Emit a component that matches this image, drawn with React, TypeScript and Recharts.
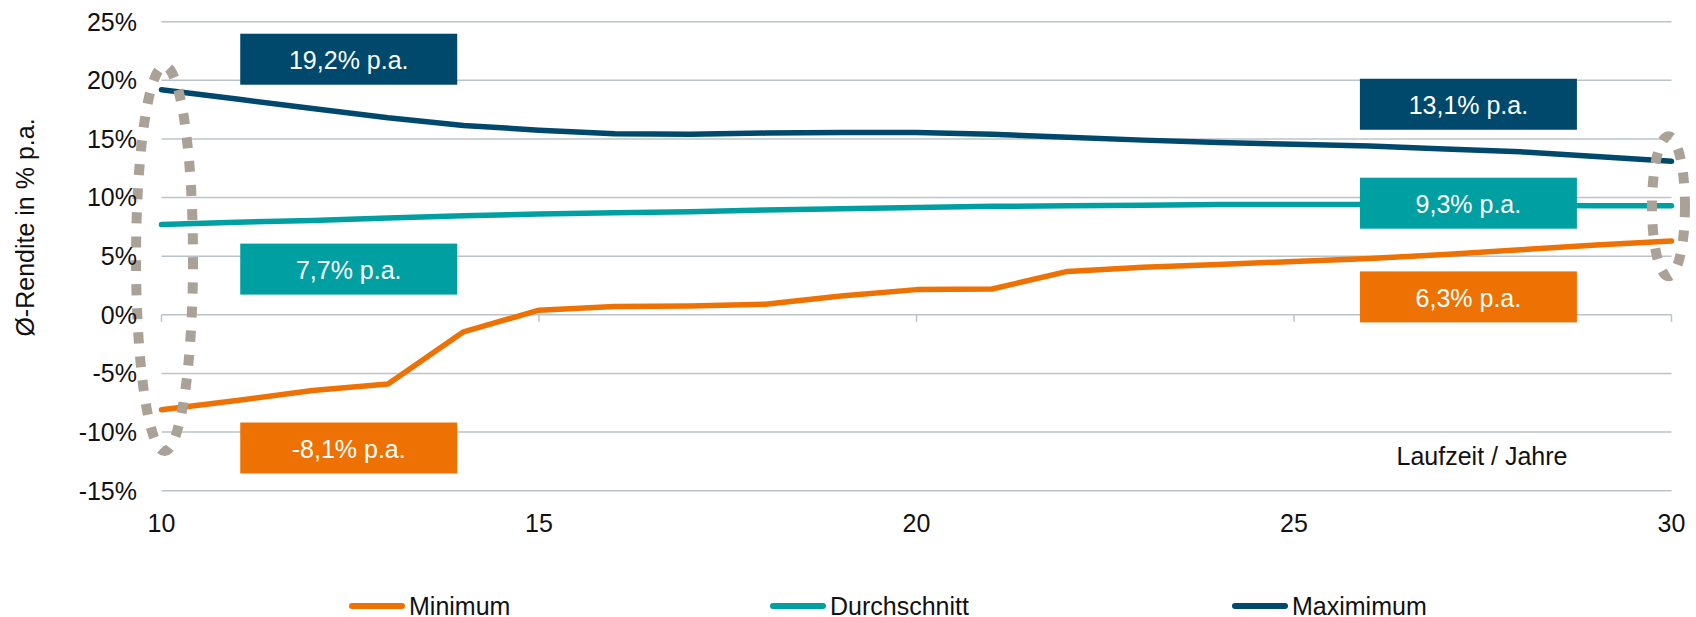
import {
  LineChart,
  Line,
  XAxis,
  YAxis,
  CartesianGrid,
  ReferenceLine,
  ReferenceDot,
} from "recharts";

// Laufzeit in Jahren
const years = [10, 11, 12, 13, 14, 15, 16, 17, 18, 19, 20, 21, 22, 23, 24, 25, 26, 27, 28, 29, 30];

// Ø-Rendite in % p.a.
const minimum = [-8.1, -7.3, -6.45, -5.9, -1.45, 0.4, 0.7, 0.75, 0.9, 1.6, 2.15, 2.2, 3.7, 4.05, 4.3, 4.55, 4.8, 5.15, 5.55, 5.95, 6.3];
const durchschnitt = [7.7, 7.9, 8.05, 8.25, 8.45, 8.6, 8.7, 8.8, 8.95, 9.05, 9.15, 9.25, 9.3, 9.35, 9.4, 9.4, 9.4, 9.4, 9.35, 9.3, 9.3];
const maximum = [19.2, 18.4, 17.6, 16.8, 16.15, 15.75, 15.45, 15.4, 15.5, 15.55, 15.55, 15.4, 15.15, 14.9, 14.7, 14.55, 14.4, 14.15, 13.9, 13.5, 13.1];

const xTicks = [10, 15, 20, 25, 30];
const yTicks = [-15, -10, -5, 0, 5, 10, 15, 20, 25];

const FONT = "'Liberation Sans', Arial, sans-serif";
const GRID = "#BAC4C8";
const DOTS = "#ABA297";

const series = [
  { key: "minimum", name: "Minimum", color: "#EE7203", values: minimum },
  { key: "durchschnitt", name: "Durchschnitt", color: "#009FA2", values: durchschnitt },
  { key: "maximum", name: "Maximimum", color: "#00496C", values: maximum },
];

const data = years.map((t, i) => ({
  t,
  minimum: minimum[i],
  durchschnitt: durchschnitt[i],
  maximum: maximum[i],
}));

const fmt = (v: number) => `${v.toFixed(1).replace(".", ",")}% p.a.`;

// where the value boxes sit (data coords of the box centre)
const boxSpots: Record<string, { left: number; right: number }> = {
  maximum: { left: 21.8, right: 17.96 },
  durchschnitt: { left: 3.9, right: 9.52 },
  minimum: { left: -11.36, right: 1.53 },
};

function ValueBox({ cx, cy, color, text }: any) {
  return (
    <g>
      <rect x={cx - 108.5} y={cy - 25.5} width={217} height={51} fill={color} />
      <text
        x={cx}
        y={cy + 1}
        textAnchor="middle"
        dominantBaseline="central"
        fill="#fff"
        fontSize={25}
        fontFamily={FONT}
      >
        {text}
      </text>
    </g>
  );
}

function DottedEllipse({ cx, cy, rx, ry }: any) {
  return (
    <ellipse
      cx={cx}
      cy={cy}
      rx={rx}
      ry={ry}
      fill="none"
      stroke={DOTS}
      strokeWidth={10}
      strokeDasharray="11 13"
    />
  );
}

function Legend() {
  const lefts = [349, 770, 1232];
  return (
    <>
      {series.map((s, i) => (
        <div
          key={s.key}
          style={{
            position: "absolute",
            left: lefts[i],
            top: 591,
            height: 30,
            display: "flex",
            alignItems: "center",
            fontFamily: FONT,
            fontSize: 25,
            color: "#111",
            whiteSpace: "nowrap",
          }}
        >
          <span
            style={{
              display: "inline-block",
              width: 56,
              height: 6,
              borderRadius: 3,
              background: s.color,
              marginRight: 4,
            }}
          />
          {s.name}
        </div>
      ))}
    </>
  );
}

export default function App() {
  return (
    <div style={{ position: "relative", width: 1696, height: 617, background: "#fff" }}>
      <style>{"body{margin:0}"}</style>
      <LineChart
        width={1696}
        height={617}
        data={data}
        margin={{ top: 21.7, right: 24.5, left: 21.5, bottom: 76.3 }}
      >
        <CartesianGrid vertical={false} stroke={GRID} strokeWidth={1.5} />
        <XAxis
          dataKey="t"
          type="number"
          domain={[10, 30]}
          ticks={xTicks}
          interval={0}
          height={50}
          axisLine={false}
          tickLine={false}
          tickMargin={17.3}
          tick={{ fontSize: 25, fill: "#111", fontFamily: FONT }}
        />
        <YAxis
          type="number"
          domain={[-15, 25]}
          ticks={yTicks}
          interval={0}
          width={140}
          axisLine={false}
          tickLine={false}
          tickMargin={18.5}
          tickFormatter={(v) => `${v}%`}
          tick={{ fontSize: 25, fill: "#111", fontFamily: FONT }}
          label={{
            value: "Ø-Rendite in % p.a.",
            content: () => (
              <text
                x={25}
                y={227.5}
                transform="rotate(-90 25 227.5)"
                textAnchor="middle"
                dominantBaseline="central"
                fontSize={25}
                fontFamily={FONT}
                fill="#111"
              >
                Ø-Rendite in % p.a.
              </text>
            ),
          }}
        />
        {xTicks.map((t) => (
          <ReferenceLine
            key={`tick-${t}`}
            segment={[
              { x: t, y: 0 },
              { x: t, y: -0.6 },
            ]}
            stroke={GRID}
            strokeWidth={1.5}
            ifOverflow="visible"
          />
        ))}
        {series.map((s) => (
          <Line
            key={s.key}
            dataKey={s.key}
            name={s.name}
            type="linear"
            stroke={s.color}
            strokeWidth={5.5}
            strokeLinecap="round"
            strokeLinejoin="round"
            dot={false}
            activeDot={false}
            isAnimationActive={false}
          />
        ))}
        <ReferenceDot
          x={10.04}
          y={4.8}
          ifOverflow="visible"
          shape={(p: any) => <DottedEllipse cx={p.cx} cy={p.cy} rx={28.5} ry={192.5} />}
        />
        <ReferenceDot
          x={29.96}
          y={9.25}
          ifOverflow="visible"
          shape={(p: any) => <DottedEllipse cx={p.cx} cy={p.cy} rx={16.5} ry={70} />}
        />
        {series.map((s) => (
          <ReferenceDot
            key={`l-${s.key}`}
            x={12.48}
            y={boxSpots[s.key].left}
            ifOverflow="visible"
            shape={(p: any) => (
              <ValueBox cx={p.cx} cy={p.cy} color={s.color} text={fmt(s.values[0])} />
            )}
          />
        ))}
        {series.map((s) => (
          <ReferenceDot
            key={`r-${s.key}`}
            x={27.31}
            y={boxSpots[s.key].right}
            ifOverflow="visible"
            shape={(p: any) => (
              <ValueBox
                cx={p.cx}
                cy={p.cy}
                color={s.color}
                text={fmt(s.values[s.values.length - 1])}
              />
            )}
          />
        ))}
        <ReferenceDot
          x={27.49}
          y={-12.0}
          ifOverflow="visible"
          shape={(p: any) => (
            <text
              x={p.cx}
              y={p.cy + 9}
              textAnchor="middle"
              fontSize={25}
              fontFamily={FONT}
              fill="#111"
            >
              Laufzeit / Jahre
            </text>
          )}
        />
      </LineChart>
      <Legend />
    </div>
  );
}
